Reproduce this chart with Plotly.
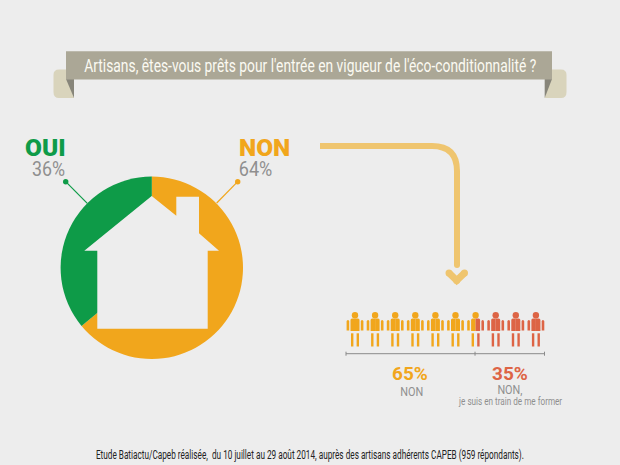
import json
import plotly.graph_objects as go

W, H = 620, 465
BG = "#EDEDED"
ORANGE = "#F1A61C"
GREEN = "#0E9B48"
RED = "#DD6445"
GRAY = "#8F8F8F"
ARROW = "#EFC56F"
SANS = "Roboto"

# data
pie_labels = ["NON", "OUI"]
pie_values = [64, 36]
pie_colors = [ORANGE, GREEN]
split_labels = ["65%", "35%"]
split_values = [65, 35]
people_count = 10
title = "Artisans, êtes-vous prêts pour l'entrée en vigueur de l'éco-conditionnalité ?"
footer = "Etude Batiactu/Capeb réalisée,  du 10 juillet au 29 août 2014, auprès des artisans adhérents CAPEB (959 répondants)."
detail = "je suis en train de me former"

cx, cy, R = 151.8, 267.8, 91.2
fig = go.Figure()
fig.add_trace(go.Pie(
    labels=pie_labels, values=pie_values, sort=False, direction="clockwise", rotation=0,
    marker=dict(colors=pie_colors, line=dict(width=0)), textinfo="none", hoverinfo="skip",
    showlegend=False,
    domain=dict(x=[(cx-R)/W, (cx+R)/W], y=[1-(cy+R)/H, 1-(cy-R)/H]),
))

shapes = []
def raw(d, fill):
    shapes.append(dict(type="path", path=d, fillcolor=fill, line=dict(width=0), xref="x", yref="y"))
def path(pts, fill):
    raw("M " + " L ".join(f"{x},{y}" for x, y in pts) + " Z", fill)
def line(x0, y0, x1, y1, color, w):
    shapes.append(dict(type="line", x0=x0, y0=y0, x1=x1, y1=y1, line=dict(color=color, width=w), xref="x", yref="y"))
def rect(x0, y0, x1, y1, color):
    shapes.append(dict(type="rect", x0=x0, y0=y0, x1=x1, y1=y1, fillcolor=color, line=dict(width=0), xref="x", yref="y"))
def circ(x, y, r, color):
    shapes.append(dict(type="circle", x0=x-r, y0=y-r, x1=x+r, y1=y+r, fillcolor=color, line=dict(width=0), xref="x", yref="y"))

# banner
raw("M 53.5,75 Q 53.5,69.5 59,69.5 L 66,69.5 L 74,98 L 59,98 Q 53.5,98 53.5,92 Z", "#D9D4BC")
raw("M 566.5,75 Q 566.5,69.5 561,69.5 L 552,69.5 L 544.7,98 L 561,98 Q 566.5,98 566.5,92 Z", "#D9D4BC")
path([(66, 79), (74, 79), (74, 98)], "#87857A")
path([(552, 79), (544.7, 79), (544.7, 98)], "#87857A")
rect(66, 51.3, 552, 79.4, "#ABA796")

# house
path([(151.7, 196), (176.3, 215.7), (176.3, 196.7), (199, 196.7), (199, 233.3), (219, 250.7), (207.7, 250.7),
      (207.7, 328.7), (97.3, 328.7), (97.3, 250.7), (84.3, 250.7)], BG)

# leaders
line(65.7, 181.7, 87.3, 203.3, GREEN, 1.2); circ(65.7, 181.7, 2.7, GREEN)
line(237.7, 181.7, 216.7, 203, ORANGE, 1.2); circ(237.7, 181.7, 2.7, ORANGE)

# arrow
shapes.append(dict(type="path", path="M 320,146 L 432,146 Q 457,146 457,171 L 457,265", fillcolor="rgba(0,0,0,0)",
                   line=dict(color=ARROW, width=6), xref="x", yref="y"))
circ(457, 265, 3, ARROW)
shapes.append(dict(type="path", path="M 449,273 L 456.7,280.5 L 464.5,273", fillcolor="rgba(0,0,0,0)",
                   line=dict(color=ARROW, width=7), xref="x", yref="y"))
circ(449, 273, 3.5, ARROW); circ(464.5, 273, 3.5, ARROW); circ(456.7, 280.5, 3.5, ARROW)

# people
x0p, dxp = 355, 20.1
split_pos = people_count * split_values[0] / 100
def left_half(xc, color):
    raw(f"M {xc},318.5 L {xc-3},318.5 Q {xc-4.5},318.5 {xc-4.5},320 L {xc-4.5},331 L {xc},331 Z", color)
    raw(f"M {xc-8.4},330.5 L {xc-8.4},321.5 Q {xc-8.4},320 {xc-7},320 Q {xc-5.8},320 {xc-5.8},321.5 L {xc-5.8},330.5 Z", color)
    rect(xc-4, 333.3, xc-1.6, 346.5, color)
def right_half(xc, color):
    raw(f"M {xc},318.5 L {xc+3},318.5 Q {xc+4.5},318.5 {xc+4.5},320 L {xc+4.5},331 L {xc},331 Z", color)
    raw(f"M {xc+8.4},330.5 L {xc+8.4},321.5 Q {xc+8.4},320 {xc+7},320 Q {xc+5.8},320 {xc+5.8},321.5 L {xc+5.8},330.5 Z", color)
    rect(xc+1.6, 333.3, xc+4, 346.5, color)
for i in range(people_count):
    xc = x0p + i * dxp
    if i + 1 <= split_pos:
        lc, rc = ORANGE, ORANGE
    elif i >= split_pos:
        lc, rc = RED, RED
    else:
        lc, rc = ORANGE, RED
    circ(xc, 315.3, 3.2, lc)
    left_half(xc, lc)
    right_half(xc, rc)

# ruler
ax0, ax1 = 346, 544.5
axm = ax0 + (ax1-ax0) * split_values[0] / 100
line(ax0, 353.7, ax1, 353.7, "#8A8A8A", 1)
for xx in (ax0, axm, ax1):
    line(xx, 351.7, xx, 355.7, "#8A8A8A", 1)

def txt(x, y, s, size, color, anchor="center", weight=400):
    return dict(x=x, y=y, xref="x", yref="y", text=s, showarrow=False,
                font=dict(family=SANS, size=size, color=color, weight=weight), xanchor=anchor, yanchor="middle")

ann = [
    txt(310, 65, title, 18, "#FBFAF2"),
    txt(22.5, 147, pie_labels[1], 24.5, GREEN, weight=900, anchor="left"),
    txt(48.5, 169, f"{pie_values[1]}%", 20, GRAY),
    txt(237, 147, pie_labels[0], 24.5, ORANGE, weight=900, anchor="left"),
    txt(255.3, 169, f"{pie_values[0]}%", 20, GRAY),
    txt(410.3, 373, split_labels[0], 19, ORANGE, weight=700),
    txt(510, 373, split_labels[1], 19, RED, weight=700),
    txt(411, 392, "NON", 12, GRAY),
    txt(510, 389.5, "NON,", 12, GRAY),
    txt(510, 401, detail, 11, GRAY),
    txt(310, 455, footer, 12, "#222222"),
]

fig.update_layout(
    width=W, height=H, margin=dict(l=0, r=0, t=0, b=0), paper_bgcolor=BG, plot_bgcolor=BG, showlegend=False,
    xaxis=dict(range=[0, W], visible=False, fixedrange=True),
    yaxis=dict(range=[H, 0], visible=False, fixedrange=True),
    shapes=shapes, annotations=ann,
)

# the reference sets these strings in a condensed face: fit them to their measured widths
fit = {title: 452, footer: 428, detail: 103, "NON": 23, "NON,": 25, "36%": 33, "64%": 33.5}
post = """
document.body.style.margin = '0';
document.body.style.background = '%s';
var fit = %s;
document.querySelectorAll('.annotation-text').forEach(function (t) {
  var w = fit[t.textContent];
  if (w && parseFloat(t.style.fontSize) <= 20) {
    t.setAttribute('textLength', w);
    t.setAttribute('lengthAdjust', 'spacingAndGlyphs');
    var g = t.closest('.annotation');
    var bg = g && g.querySelector('rect.bg');
    if (bg) {
      var bw = parseFloat(bg.getAttribute('width'));
      var bx = parseFloat(bg.getAttribute('x')) || 0;
      bg.setAttribute('x', bx + (bw - w) / 2);
      bg.setAttribute('width', w);
    }
  }
});
""" % (BG, json.dumps(fit, ensure_ascii=False))
fig.write_html("out.html", config={"displayModeBar": False}, post_script=post)
